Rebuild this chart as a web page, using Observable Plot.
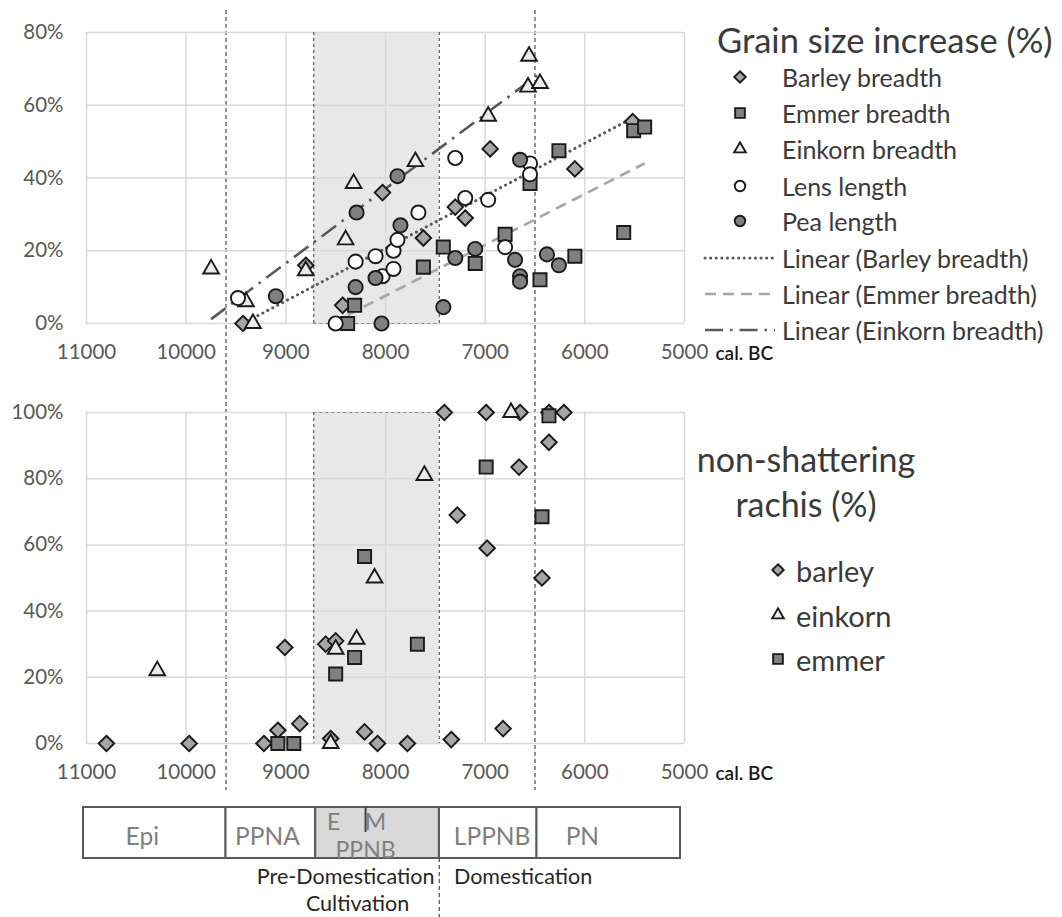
<!DOCTYPE html>
<html><head><meta charset="utf-8">
<script src="https://cdn.jsdelivr.net/npm/d3@7"></script>
<script src="https://cdn.jsdelivr.net/npm/@observablehq/plot@0.6"></script>
<style>
body{margin:0;background:#fff;}
#fig{position:relative;width:1062px;height:917px;overflow:hidden;font-family:Lato,"Open Sans",sans-serif;}
#fig svg{position:absolute;left:0;}
</style></head><body><div id="fig"></div>
<script>
// ---------------- DATA ----------------
const yearTicks = [11000, 10000, 9000, 8000, 7000, 6000, 5000];
const grainTicks = [0, 20, 40, 60, 80];
const rachisTicks = [0, 20, 40, 60, 80, 100];

// Grain size increase (%) — [cal. BC year, %]
const barleyBreadth = [[9430,0],[8800,16],[8430,5],[8030,36],[7620,23.5],[7300,32],[7200,29],[6950,48],[6100,42.5],[5520,55.5]];
const emmerBreadth = [[8380,0],[8310,5],[7620,15.5],[7420,21],[7100,16.5],[6800,24.5],[6550,38.5],[6450,12],[6260,47.5],[6100,18.5],[5610,25],[5510,53],[5400,54]];
const einkornBreadth = [[9750,15],[9400,6],[9330,0],[8800,14.5],[8400,23],[8320,38.5],[7700,44.5],[6970,57],[6570,65],[6560,73.5],[6450,66]];
const lensLength = [[9480,7],[8500,0],[8300,17],[8100,18.5],[8030,13],[7920,15],[7920,20],[7880,23],[7670,30.5],[7300,45.5],[7200,34.5],[6970,34],[6800,21],[6550,44],[6550,41]];
const peaLength = [[9100,7.5],[8300,10],[8290,30.5],[8100,12.5],[8040,0],[7880,40.5],[7850,27],[7420,4.5],[7300,18],[7100,20.5],[6700,17.5],[6650,45],[6650,13],[6650,11.5],[6380,19],[6260,16]];

// Linear trend lines (end points)
const barleyTrend = [[9430,0],[5520,56.5]];
const emmerTrend = [[8380,2.3],[5400,44]];
const einkornTrend = [[9750,1.2],[6450,68.8]];

// Non-shattering rachis (%)
const rachisBarley = [[10800,0],[9970,0],[9220,0],[9080,4],[9010,29],[8860,6],[8600,30],[8550,1.5],[8500,31],[8210,3.5],[8080,0],[7780,0],[7410,100],[7340,1.2],[7280,69],[6990,100],[6980,59],[6820,4.5],[6660,83.5],[6650,100],[6430,50],[6360,91],[6360,100],[6210,100]];
const rachisEinkorn = [[10290,22],[8550,0],[8500,28.5],[8290,31.5],[8110,50],[7610,81],[6740,100]];
const rachisEmmer = [[9080,0],[8920,0],[8500,21],[8310,26],[8210,56.5],[7680,30],[6990,83.5],[6430,68.5],[6360,99]];

// Periods and phases (cal. BC)
const cultivationSpan = [{start: 8720, end: 7460}];
const phaseLines = [9600, 6500];
const periods = [
  {name: "Epi", start: 11030, end: 9600},
  {name: "PPNA", start: 9600, end: 8700},
  {name: "PPNB", start: 8700, end: 7460},
  {name: "LPPNB", start: 7460, end: 6480},
  {name: "PN", start: 6480, end: 5040}
];
const ppnbSplit = [8200];
const periodLabels = [
  {text: "Epi", year: 10440, row: "mid"},
  {text: "PPNA", year: 9185, row: "mid"},
  {text: "E", year: 8520, row: "top"},
  {text: "M", year: 8100, row: "top"},
  {text: "PPNB", year: 8200, row: "bottom"},
  {text: "LPPNB", year: 6930, row: "mid"},
  {text: "PN", year: 6025, row: "mid"}
];
const phaseLabels = [
  {text: "Pre-Domestication", year: 8400, row: 1},
  {text: "Cultivation", year: 8280, row: 2},
  {text: "Domestication", year: 6620, row: 1}
];
const domesticationLine = [7460];

// ---------------- STYLE ----------------
const W = 800, ML = 86, MR = 116;
const FONT = "Lato, 'Open Sans', sans-serif";
const INK = "#1a1a1a";
const xDomain = [11000, 5000];
const fmtYear = d3.format("d");
const pct = d => d + "%";
const toRows = pairs => pairs.map(([year, value]) => ({year, value}));

const grainStyles = [
  {name: "Barley breadth", data: barleyBreadth, symbol: "diamond2", r: 7, fill: "#a6a6a6"},
  {name: "Emmer breadth", data: emmerBreadth, symbol: "square", r: 7.4, fill: "#808080"},
  {name: "Einkorn breadth", data: einkornBreadth, symbol: "triangle2", r: 7.5, fill: "#ebebeb"},
  {name: "Lens length", data: lensLength, symbol: "circle", r: 7.1, fill: "#ffffff"},
  {name: "Pea length", data: peaLength, symbol: "circle", r: 7.1, fill: "#808080"}
];
const trendStyles = [
  {name: "Linear (Barley breadth)", data: barleyTrend, stroke: "#595959", dash: "0.1,5.5", cap: "round", width: 3},
  {name: "Linear (Emmer breadth)", data: emmerTrend, stroke: "#a6a6a6", dash: "11,7", cap: "butt", width: 2.6},
  {name: "Linear (Einkorn breadth)", data: einkornTrend, stroke: "#595959", dash: "18,7,2.5,7", cap: "butt", width: 2.6}
];
const rachisStyles = [
  {name: "barley", data: rachisBarley, symbol: "diamond2", r: 7, fill: "#a6a6a6"},
  {name: "einkorn", data: rachisEinkorn, symbol: "triangle2", r: 7.5, fill: "#ebebeb"},
  {name: "emmer", data: rachisEmmer, symbol: "square", r: 7.4, fill: "#808080"}
];

const fig = document.getElementById("fig");
function place(svg, top) { svg.style.top = top + "px"; fig.appendChild(svg); }

function frameMarks(ticks, edgeY) {
  return [
    Plot.rect(cultivationSpan, {x1: "start", x2: "end", fill: "#e8e8e8"}),
    Plot.gridX(yearTicks, {stroke: "#d9d9d9", strokeOpacity: 1, strokeWidth: 1.5}),
    Plot.gridY(ticks, {stroke: "#d9d9d9", strokeOpacity: 1, strokeWidth: 1.5}),
    Plot.ruleX(cultivationSpan.flatMap(d => [d.start, d.end]), {stroke: "#595959", strokeDasharray: "3,3", strokeWidth: 1.2}),
    Plot.ruleY(cultivationSpan, {x1: "start", x2: "end", y: edgeY, stroke: "#8c8c8c", strokeDasharray: "3,3", strokeWidth: 1.2})
  ];
}
function dotMarks(styles) {
  return styles.map(s => Plot.dot(toRows(s.data), {
    x: "year", y: "value", symbol: s.symbol, r: s.r, fill: s.fill, stroke: INK, strokeWidth: 1.9
  }));
}
const calBC = Plot.text(["cal. BC"], {frameAnchor: "bottom-right", textAnchor: "start", lineAnchor: "middle", dx: 31, dy: 30,
  fontSize: 19, fontWeight: 600, fill: "#1a1a1a"});

const axisStyle = {fontFamily: FONT, fontSize: "20.5px", color: "#595959", background: "transparent", overflow: "visible"};

// ---------- overlay (phase boundaries) behind charts ----------
place(Plot.plot({
  width: W, height: 917, marginLeft: ML, marginRight: MR, marginTop: 10, marginBottom: 127,
  style: {background: "transparent"},
  x: {domain: xDomain, axis: null},
  marks: [Plot.ruleX(phaseLines, {stroke: "#595959", strokeDasharray: "4,3", strokeWidth: 1.3})]
}), 0);

// ---------- grain size chart ----------
place(Plot.plot({
  width: W, height: 365, marginLeft: ML, marginRight: MR, marginTop: 32, marginBottom: 42,
  style: axisStyle,
  x: {domain: xDomain, ticks: yearTicks, tickFormat: fmtYear, tickSize: 0, tickPadding: 21, label: null},
  y: {domain: [0, 80], ticks: grainTicks, tickFormat: pct, tickSize: 0, tickPadding: 23, label: null},
  marks: [
    ...frameMarks(grainTicks, 0),
    ...trendStyles.map(t => Plot.line(toRows(t.data), {x: "year", y: "value", stroke: t.stroke,
      strokeWidth: t.width, strokeDasharray: t.dash, strokeLinecap: t.cap})),
    ...dotMarks(grainStyles),
    calBC
  ]
}), 0);

// ---------- rachis chart ----------
place(Plot.plot({
  width: W, height: 420, marginLeft: ML, marginRight: MR, marginTop: 42, marginBottom: 47,
  style: axisStyle,
  x: {domain: xDomain, ticks: yearTicks, tickFormat: fmtYear, tickSize: 0, tickPadding: 21, label: null},
  y: {domain: [0, 100], ticks: rachisTicks, tickFormat: pct, tickSize: 0, tickPadding: 23, label: null},
  marks: [
    ...frameMarks(rachisTicks, 100),
    ...dotMarks(rachisStyles),
    calBC
  ]
}), 370);

// ---------- timeline ----------
const rowDy = {top: 15, mid: 30, bottom: 43};
place(Plot.plot({
  width: W, height: 127, marginLeft: ML, marginRight: MR, marginTop: 17, marginBottom: 0,
  style: {fontFamily: FONT, background: "transparent", overflow: "visible"},
  x: {domain: xDomain, axis: null},
  marks: [
    Plot.rect(periods.filter(p => p.name !== "PPNB"), {x1: "start", x2: "end", insetBottom: 59, fill: "#ffffff", stroke: "#595959", strokeWidth: 2}),
    Plot.rect(periods.filter(p => p.name === "PPNB"), {x1: "start", x2: "end", insetBottom: 59, fill: "#d9d9d9", stroke: "#595959", strokeWidth: 2}),
    Plot.ruleX(ppnbSplit, {insetBottom: 85, stroke: "#404040", strokeWidth: 2}),
    Plot.ruleX(domesticationLine, {insetTop: 51, stroke: "#595959", strokeDasharray: "4,3", strokeWidth: 1.3}),
    ...["top", "mid", "bottom"].map(row => Plot.text(periodLabels.filter(d => d.row === row), {
      x: "year", text: "text", frameAnchor: "top", lineAnchor: "middle", dy: rowDy[row],
      fontSize: row === "mid" ? 24.5 : 23, fill: "#7f7f7f"})),
    ...[1, 2].map(row => Plot.text(phaseLabels.filter(d => d.row === row), {
      x: "year", text: "text", frameAnchor: "top", lineAnchor: "middle", dy: row === 1 ? 70 : 97, fontSize: 21.5, fill: "#262626"}))
  ]
}), 790);

// ---------- legends ----------
const lg = d3.select(fig).append("svg").attr("width", 1062).attr("height", 917)
  .style("top", "0px").style("pointer-events", "none").style("font-family", FONT);
const symPath = (name, r) => {
  const map = {diamond2: d3.symbolDiamond2, square: d3.symbolSquare, triangle2: d3.symbolTriangle2, circle: d3.symbolCircle};
  return d3.symbol(map[name], Math.PI * r * r)();
};
lg.append("text").attr("x", 717).attr("y", 39).attr("dominant-baseline", "central")
  .attr("font-size", 34.5).attr("fill", "#3a3a3a").text("Grain size increase (%)");
const grainRows = [77, 113, 149, 186, 221];
grainStyles.forEach((s, i) => {
  lg.append("path").attr("d", symPath(s.symbol, s.r * 0.74)).attr("transform", `translate(740,${grainRows[i]})`)
    .attr("fill", s.fill).attr("stroke", INK).attr("stroke-width", 1.9);
  lg.append("text").attr("x", 782).attr("y", grainRows[i]).attr("dominant-baseline", "central")
    .attr("font-size", 25).attr("fill", "#3a3a3a").text(s.name);
});
const trendRows = [258, 294, 330];
trendStyles.forEach((t, i) => {
  lg.append("line").attr("x1", 705).attr("x2", 775).attr("y1", trendRows[i]).attr("y2", trendRows[i])
    .attr("stroke", t.stroke).attr("stroke-width", t.width).attr("stroke-dasharray", t.dash).attr("stroke-linecap", t.cap);
  lg.append("text").attr("x", 782).attr("y", trendRows[i]).attr("dominant-baseline", "central")
    .attr("font-size", 25).attr("fill", "#3a3a3a").text(t.name);
});
[["non-shattering", 458], ["rachis (%)", 503]].forEach(([t, y]) => {
  lg.append("text").attr("x", 806).attr("y", y).attr("text-anchor", "middle").attr("dominant-baseline", "central")
    .attr("font-size", 34).attr("fill", "#3a3a3a").text(t);
});
const rachisRows = [570, 615, 659];
rachisStyles.forEach((s, i) => {
  lg.append("path").attr("d", symPath(s.symbol, s.r * 0.74)).attr("transform", `translate(778,${rachisRows[i]})`)
    .attr("fill", s.fill).attr("stroke", INK).attr("stroke-width", 1.9);
  lg.append("text").attr("x", 796).attr("y", rachisRows[i]).attr("dominant-baseline", "central")
    .attr("font-size", 29).attr("fill", "#3a3a3a").text(s.name);
});
</script></body></html>
